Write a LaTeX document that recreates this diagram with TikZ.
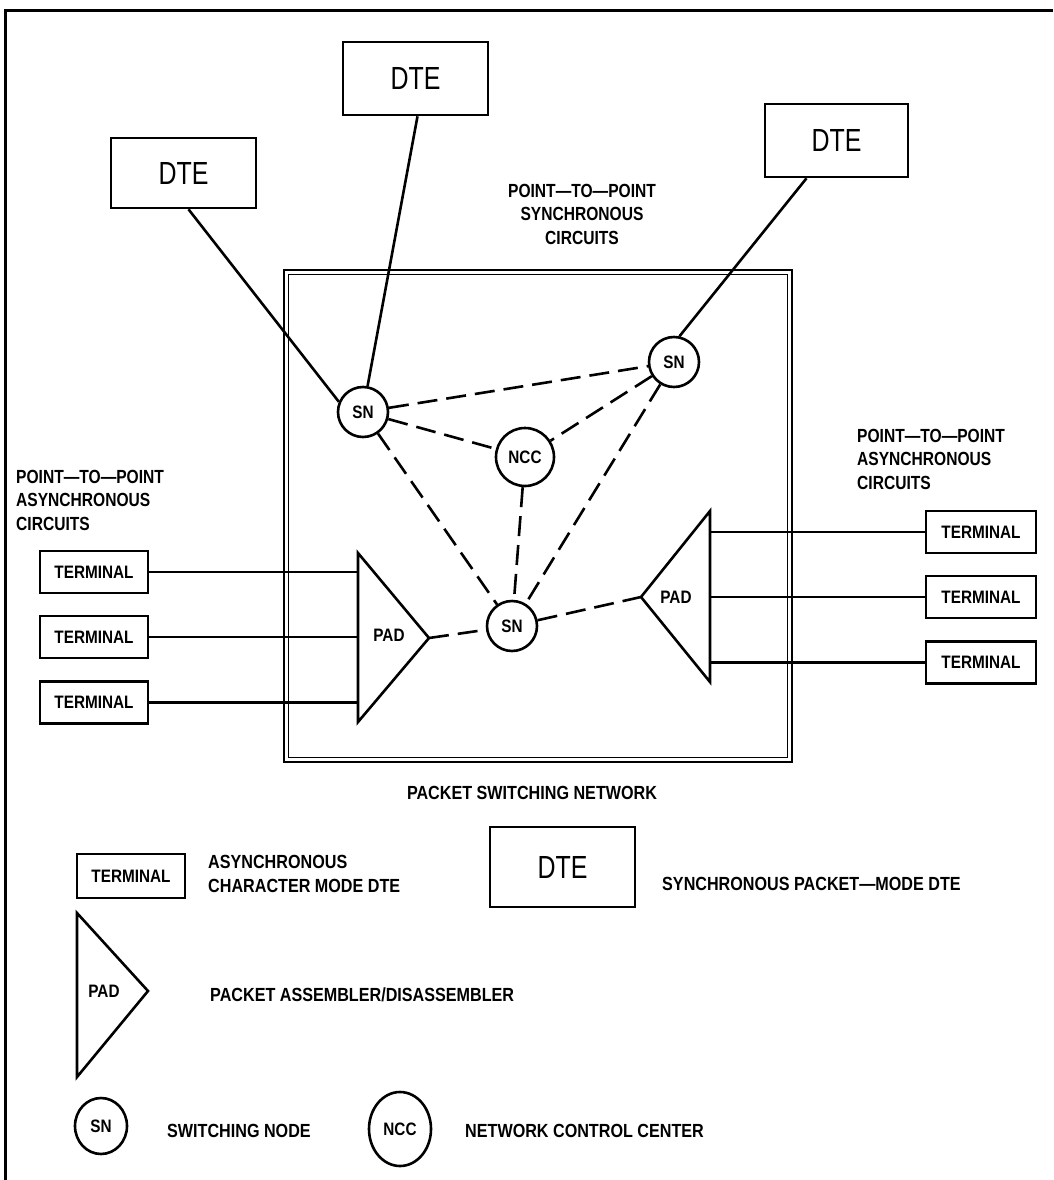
\documentclass[tikz,border=0pt]{standalone}
\usepackage{fontspec}
\usetikzlibrary{shapes.geometric}
\newfontfamily\labfont[FakeStretch=0.82]{Liberation Sans}
\newfontfamily\tagfont[FakeStretch=0.85]{Liberation Sans}
\newfontfamily\dtefont[FakeStretch=0.78]{Liberation Sans}

\tikzset{
  ln/.style={line width=2.6pt},
  dtebox/.style={draw, ln, rectangle, minimum width=145pt, minimum height=73pt, inner sep=0pt,
    font=\dtefont\fontsize{32}{32}\selectfont},
  termbox/.style={draw, ln, rectangle, minimum width=108pt, minimum height=42pt, inner sep=0pt,
    font=\tagfont\bfseries\fontsize{18}{18}\selectfont},
  swnode/.style={draw, ln, circle, minimum size=50pt, inner sep=0pt,
    font=\tagfont\bfseries\fontsize{18}{18}\selectfont},
  ctrnode/.style={swnode, minimum size=58pt},
  link/.style={ln, dash pattern=on 20pt off 9pt},
  padtri/.style={ln, line join=miter},
  lbl/.style={inner sep=0pt, align=left, font=\labfont\bfseries\fontsize{19}{23.5}\selectfont},
  lblc/.style={lbl, align=center},
  legtxt/.style={inner sep=0pt, align=left, font=\tagfont\bfseries\fontsize{19}{23.5}\selectfont},
  padtxt/.style={inner sep=0pt, font=\tagfont\bfseries\fontsize{18}{18}\selectfont},
}

\begin{document}
\begin{tikzpicture}[x=1pt,y=-1pt]
\useasboundingbox (0,0) rectangle (1053,1180);

% open page frame
\draw[line width=3pt] (5,1180) -- (5,11) -- (1053,11);

% packet switching network boundary (double line)
\draw[line width=2.2pt] (284,270) rectangle (792,762);
\draw[line width=1.8pt] (288.5,274.5) rectangle (787.5,757.5);
\node[legtxt] (psn) at (532,793) {PACKET SWITCHING NETWORK};

% synchronous packet-mode DTEs
\node[dtebox, minimum height=70pt] (dte1) at (183.5,173) {DTE};
\node[dtebox] (dte2) at (415.5,78.5) {DTE};
\node[dtebox, minimum width=143pt] (dte3) at (836.5,140.5) {DTE};

\node[lblc] (synclbl) at (582,214) {POINT—TO—POINT\\SYNCHRONOUS\\CIRCUITS};

% switching nodes and control center
\node[swnode] (sn1) at (363,412) {SN};
\node[swnode] (sn2) at (674,362) {SN};
\node[ctrnode] (ncc) at (525,457) {NCC};
\node[swnode] (sn3) at (512,626) {SN};

% DTE access lines
\draw[ln] ([xshift=5pt]dte1.south) -- (sn1.157);
\draw[ln] ([xshift=2pt]dte2.south) -- (sn1.80);
\draw[ln] ([xshift=-30pt]dte3.south) -- (sn2.78);

% PADs
\coordinate (padLtop) at (358,553);
\coordinate (padLbot) at (358,722);
\coordinate (padLtip) at (429,638);
\draw[padtri] (padLtop) -- (padLtip) -- (padLbot) -- cycle;
\node[padtxt] (padL) at (389,635) {PAD};

\coordinate (padRtop) at (710,511);
\coordinate (padRbot) at (710,682);
\coordinate (padRtip) at (641,597);
\draw[padtri] (padRtop) -- (padRtip) -- (padRbot) -- cycle;
\node[padtxt] (padR) at (676,597) {PAD};

% internal trunks
\draw[link] (sn1) -- (sn2);
\draw[link] (sn1) -- (ncc);
\draw[link] (sn1) -- (sn3);
\draw[link] (sn2) -- (ncc);
\draw[link] (sn2) -- (sn3);
\draw[link] (ncc) -- (sn3);
\draw[link] (padLtip) -- (sn3);
\draw[link] (sn3) -- (padRtip);

% asynchronous terminals, left
\node[lbl, anchor=west] (asyncL) at (16,500) {POINT—TO—POINT\\ASYNCHRONOUS\\CIRCUITS};
\node[termbox] (tl1) at (94,572) {TERMINAL};
\node[termbox] (tl2) at (94,637) {TERMINAL};
\node[termbox] (tl3) at (94,702.5) {TERMINAL};
\foreach \t in {tl1,tl2,tl3}
  \draw[ln] (\t.east) -- (\t.east -| padLtop);

% asynchronous terminals, right
\node[lbl, anchor=west] (asyncR) at (857,459) {POINT—TO—POINT\\ASYNCHRONOUS\\CIRCUITS};
\node[termbox, minimum width=110pt] (tr1) at (981,532) {TERMINAL};
\node[termbox, minimum width=110pt] (tr2) at (981,597) {TERMINAL};
\node[termbox, minimum width=110pt] (tr3) at (981,662.5) {TERMINAL};
\foreach \t in {tr1,tr2,tr3}
  \draw[ln] (\t.west) -- (\t.west -| padRtop);

% legend
\node[termbox, minimum height=44pt] (kterm) at (131,876) {TERMINAL};
\node[legtxt, anchor=west] (ktermtxt) at (208,874) {ASYNCHRONOUS\\CHARACTER MODE DTE};

\node[dtebox, minimum height=80pt] (kdte) at (562.5,867) {DTE};
\node[legtxt, anchor=west] (kdtetxt) at (662,884) {SYNCHRONOUS PACKET—MODE DTE};

\coordinate (kpadtop) at (77,913);
\coordinate (kpadbot) at (77,1077);
\coordinate (kpadtip) at (148,991);
\draw[padtri] (kpadtop) -- (kpadtip) -- (kpadbot) -- cycle;
\node[padtxt] (kpad) at (104,991) {PAD};
\node[legtxt, anchor=west] (kpadtxt) at (210,995) {PACKET ASSEMBLER/DISASSEMBLER};

\node[swnode, ellipse, minimum width=52pt, minimum height=56pt] (ksn) at (101,1126) {SN};
\node[legtxt, anchor=west] (ksntxt) at (167,1131) {SWITCHING NODE};

\node[swnode, ellipse, minimum width=62pt, minimum height=74pt] (kncc) at (400,1129) {NCC};
\node[legtxt, anchor=west] (kncctxt) at (465,1131) {NETWORK CONTROL CENTER};
\end{tikzpicture}
\end{document}
